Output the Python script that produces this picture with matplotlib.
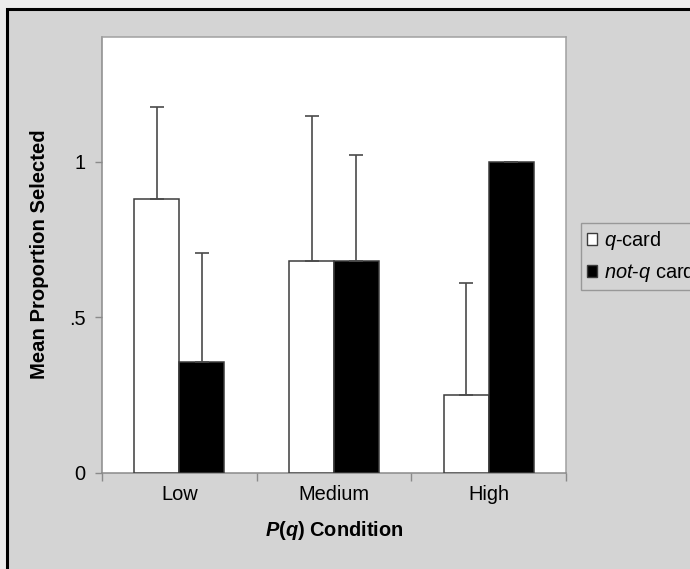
import numpy as np
import matplotlib
matplotlib.use('Agg')
import matplotlib.pyplot as plt
from matplotlib.patches import Rectangle, Patch

plt.rcParams['font.family'] = ['Liberation Sans', 'DejaVu Sans']
plt.rcParams['mathtext.fontset'] = 'custom'
plt.rcParams['mathtext.rm'] = 'Liberation Sans'
plt.rcParams['mathtext.it'] = 'Liberation Sans:italic'
plt.rcParams['mathtext.bf'] = 'Liberation Sans:bold'
plt.rcParams['mathtext.bfit'] = 'Liberation Sans:bold:italic'

# Data
conditions = ['Low', 'Medium', 'High']
q_card = [0.88, 0.68, 0.25]
q_card_err = [0.295, 0.465, 0.36]
notq_card = [0.355, 0.68, 1.0]
notq_card_err = [0.35, 0.34, 0.0]
ytick_vals = [0, 0.5, 1]
ytick_labels = ['0', '.5', '1']

bg = '#d4d4d4'
edge = '#3c3c3c'
axis_gray = '#8a8a8a'

fig = plt.figure(figsize=(6.9, 5.69), dpi=100)
fig.patch.set_facecolor('#ececec')
# chart-area frame (cropped at right/bottom in the original)
fig.patches.append(Rectangle((7 / 690, -0.05), 1.1, 1 - 9 / 569 + 0.05,
                             transform=fig.transFigure, facecolor=bg,
                             edgecolor='black', linewidth=2.2, zorder=-10))

ax = fig.add_axes([102 / 690, 1 - 473 / 569, 464 / 690, 436 / 569])
ax.set_facecolor('white')

x = np.arange(len(conditions))
w = 0.29
ax.bar(x - w / 2, q_card, w, color='white', edgecolor=edge, linewidth=1.1,
       yerr=[np.zeros(3), q_card_err], capsize=5,
       error_kw=dict(ecolor='#4a4a4a', elinewidth=1.2, capthick=1.2), zorder=3)
ax.bar(x + w / 2, notq_card, w, color='black', edgecolor=edge, linewidth=1.1,
       yerr=[np.zeros(3), notq_card_err], capsize=5,
       error_kw=dict(ecolor='#4a4a4a', elinewidth=1.2, capthick=1.2), zorder=3)

ax.set_xlim(-0.5, 2.5)
ax.set_ylim(0, 1.4)

ax.set_yticks(ytick_vals)
ax.set_yticklabels(ytick_labels)
ax.tick_params(axis='y', direction='out', length=5, width=1, color=axis_gray,
               labelsize=14.4, pad=7)

ax.set_xticks([-0.5, 0.5, 1.5, 2.5])
ax.set_xticklabels([])
ax.set_xticks(x, minor=True)
ax.set_xticklabels(conditions, minor=True)
ax.tick_params(axis='x', which='major', direction='out', length=6, width=1,
               color=axis_gray)
ax.tick_params(axis='x', which='minor', length=0, labelsize=14.4, pad=9)

for s in ax.spines.values():
    s.set_color(axis_gray)
    s.set_linewidth(1.1)
ax.spines['top'].set_color('#a0a0a0')
ax.spines['right'].set_color('#a0a0a0')

fig.text(40 / 690, 1 - 254 / 569, 'Mean Proportion Selected', rotation=90,
         ha='center', va='center', fontsize=14.6, fontweight='bold')
fig.text(334 / 690, 1 - 531 / 569, r'$\mathbfit{P}$($\mathbfit{q}$) Condition',
         ha='center', va='center', fontsize=14.4, fontweight='bold')

handles = [Patch(facecolor='white', edgecolor=edge, linewidth=1),
           Patch(facecolor='black', edgecolor=edge, linewidth=1)]
labels = [r'$\mathit{q}$-card', r'$\mathit{not}$-$\mathit{q}$ card']
leg = fig.legend(handles, labels, loc='upper left',
                 bbox_to_anchor=(581 / 690, 1 - 223 / 569),
                 fontsize=14.4, frameon=True, fancybox=False,
                 handlelength=0.5, handleheight=0.5, handletextpad=0.35,
                 borderpad=0.3, labelspacing=0.45, borderaxespad=0)
leg.get_frame().set_facecolor(bg)
leg.get_frame().set_edgecolor('#8a8a8a')
leg.get_frame().set_linewidth(1)

plt.savefig('out.png', dpi=100, facecolor=fig.get_facecolor())
